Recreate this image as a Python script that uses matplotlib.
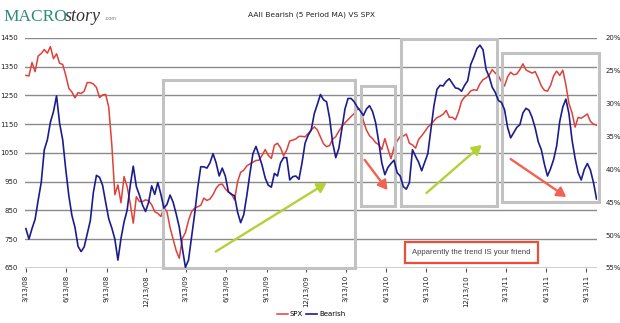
import matplotlib
matplotlib.use('Agg')
import matplotlib.pyplot as plt
import matplotlib.dates as mdates
from matplotlib.patches import Rectangle, FancyArrowPatch
from matplotlib.ticker import FuncFormatter
import pandas as pd

# Weekly readings, first survey week 3/13/08
start_date = '2008-03-13'

spx = [
    1320, 1318, 1365, 1333, 1387, 1396, 1410, 1397, 1420, 1378,
    1395, 1362, 1358, 1320, 1275, 1262, 1242, 1260, 1257, 1265,
    1295, 1295, 1290, 1278, 1243, 1252, 1254, 1210, 1080, 905,
    939, 877, 968, 933, 875, 806, 898, 881, 881, 887,
    884, 870, 846, 840, 829, 860, 845, 790, 750, 710,
    684, 753, 773, 815, 846, 858, 863, 868, 893, 885,
    890, 905, 927, 940, 942, 925, 914, 908, 887, 950,
    983, 990, 1005, 1012, 1018, 1024, 1025, 1042, 1062, 1042,
    1031, 1077, 1084, 1068, 1040, 1060, 1092, 1095, 1099, 1108,
    1108, 1106, 1118, 1130, 1141, 1130, 1106, 1082, 1072, 1076,
    1098, 1107, 1126, 1143, 1155, 1166, 1177, 1187, 1202, 1203,
    1162, 1130, 1110, 1100, 1086, 1079, 1062, 1100, 1064, 1030,
    1070, 1092, 1107, 1109, 1116, 1084, 1078, 1067, 1097, 1110,
    1124, 1140, 1150, 1162, 1173, 1178, 1185, 1198, 1174, 1174,
    1166, 1192, 1230, 1245, 1253, 1266, 1270, 1268, 1291, 1305,
    1311, 1321, 1340, 1328, 1319, 1298, 1283, 1315, 1331, 1322,
    1325, 1340, 1360, 1339, 1333, 1328, 1333, 1310, 1283, 1268,
    1265, 1285, 1318, 1335, 1320, 1338, 1287, 1222, 1190, 1140,
    1174, 1171, 1178, 1186, 1160, 1150, 1147,
]

# AAII bearish percentage, 5 period moving average
bearish = [
    49.0, 50.6, 49.0, 47.6, 44.7, 42.0, 37.0, 35.5, 32.8, 31.2,
    28.8, 33.0, 35.5, 40.0, 44.0, 47.0, 48.8, 51.7, 52.5, 51.8,
    49.8, 47.8, 43.5, 40.9, 41.2, 42.4, 45.0, 47.5, 48.9, 50.6,
    53.8, 50.5, 48.0, 46.2, 42.5, 39.5, 42.6, 43.9, 45.4, 46.4,
    45.0, 42.5, 43.8, 42.0, 43.8, 45.9, 45.3, 43.9, 45.0, 46.8,
    48.8, 52.0, 54.9, 53.8, 50.3, 46.8, 42.8, 39.6, 39.6, 39.8,
    39.0, 37.6, 39.0, 41.0, 39.8, 41.0, 43.4, 43.8, 44.0, 46.5,
    48.1, 46.9, 44.0, 40.7, 37.6, 36.5, 37.9, 39.4, 41.3, 42.4,
    42.7, 40.6, 41.0, 39.0, 38.2, 38.2, 41.6, 41.1, 41.0, 41.5,
    39.0, 36.0, 34.8, 34.0, 31.5, 30.1, 28.6, 29.4, 29.7, 32.2,
    36.0, 38.2, 36.8, 33.8, 30.8, 29.2, 29.2, 29.7, 30.5, 31.1,
    31.8, 30.8, 30.3, 31.2, 32.9, 35.8, 39.0, 40.8, 39.7, 39.1,
    38.6, 40.5, 41.0, 42.6, 43.0, 42.0, 37.0, 38.0, 38.9, 40.2,
    38.9, 37.6, 34.0, 30.3, 27.8, 27.2, 27.3, 26.6, 26.2, 26.9,
    27.6, 27.7, 28.1, 27.2, 26.5, 24.0, 22.9, 21.6, 21.1, 21.8,
    24.8, 25.9, 27.5, 28.3, 29.5, 29.8, 30.9, 33.6, 35.2, 34.4,
    33.6, 33.2, 31.4, 30.7, 31.0, 32.1, 33.7, 35.8, 37.0, 39.2,
    41.0, 39.9, 38.5, 36.4, 32.7, 30.5, 29.3, 31.5, 35.5, 38.3,
    40.5, 41.6, 40.0, 39.1, 40.1, 42.0, 44.5,
]

spx_ticks = list(range(650, 1451, 100))
pct_ticks = list(range(20, 56, 5))
date_ticks = pd.date_range('2008-03-13', '2011-09-13', freq=pd.DateOffset(months=3))

weeks = pd.date_range(start_date, periods=len(spx), freq='7D')

RED = '#E0403A'
BLUE = '#1C1C8E'
GREEN = '#B2D235'
ARROW_RED = '#F26250'
BOX_GRAY = '#C2C2C2'

fig = plt.figure(figsize=(6.2, 3.23), dpi=100)
ax = fig.add_axes([25 / 620, 1 - 268 / 323, 572 / 620, 230 / 323])
ax2 = ax.twinx()

ax.plot(weeks, spx, color=RED, lw=1.1, zorder=3)
ax2.plot(weeks, bearish, color=BLUE, lw=1.2, zorder=3)

ax.set_xlim(weeks[0] - pd.Timedelta(days=2), weeks[-1] + pd.Timedelta(days=1))
ax.set_ylim(650, 1450)
ax2.set_ylim(55, 20)

ax.set_yticks(spx_ticks)
ax2.set_yticks(pct_ticks)
ax2.yaxis.set_major_formatter(FuncFormatter(lambda v, p: f'{v:.0f}%'))

ax.set_xticks(date_ticks)
ax.xaxis.set_major_formatter(
    FuncFormatter(lambda v, p: (lambda d: f'{d.month}/{d.day}/{d:%y}')(mdates.num2date(v))))

for a in (ax, ax2):
    for s in ('top', 'left', 'right', 'bottom'):
        a.spines[s].set_visible(False)
    a.set_axisbelow(True)

ax.yaxis.grid(True, color='#8a8a8a', lw=1.0)
ax.tick_params(axis='y', length=0, pad=5, labelsize=5, labelcolor='#222222')
ax2.tick_params(axis='y', length=0, pad=6, labelsize=5, labelcolor='#222222')
ax.tick_params(axis='x', length=3, width=0.8, color='#555555', pad=2,
               labelsize=5, labelrotation=90, labelcolor='#222222')
ax.axhline(650, color='#666666', lw=1.0, zorder=2)

# highlight boxes
boxes = [
    ('2009-01-19', '2010-04-04', 650, 1304),
    ('2010-04-17', '2010-07-04', 866, 1283),
    ('2010-07-16', '2011-02-21', 867, 1448),
    ('2011-03-05', '2011-10-12', 880, 1398),
]
for x0, x1, y0, y1 in boxes:
    d0 = mdates.date2num(pd.Timestamp(x0))
    d1 = mdates.date2num(pd.Timestamp(x1))
    ax.add_patch(Rectangle((d0, y0), d1 - d0, y1 - y0, fill=False,
                           ec=BOX_GRAY, lw=2.2, zorder=5, clip_on=False))

# trend arrows
arrows = [
    ('2009-05-20', 707, '2010-01-28', 946, GREEN),
    ('2010-09-13', 911, '2011-01-17', 1078, GREEN),
    ('2010-04-25', 1026, '2010-06-16', 921, ARROW_RED),
    ('2011-03-24', 1029, '2011-07-29', 897, ARROW_RED),
]
for xa, ya, xb, yb, c in arrows:
    pa = (mdates.date2num(pd.Timestamp(xa)), ya)
    pb = (mdates.date2num(pd.Timestamp(xb)), yb)
    ax.add_patch(FancyArrowPatch(pa, pb, arrowstyle='-|>,head_length=5.5,head_width=3.2',
                                 color=c, lw=1.7, zorder=6, shrinkA=0, shrinkB=0))

ax.text(mdates.date2num(pd.Timestamp('2010-12-25')), 704,
        'Apparently the trend IS your friend', ha='center', va='center',
        fontsize=5.6, family='Liberation Sans', color='#444444', zorder=7,
        bbox=dict(boxstyle='square,pad=0.9', fc='white', ec='#E8503A', lw=1.6))

# header
fig.text(311 / 620, 1 - 15 / 323, 'AAII Bearish (5 Period MA) VS SPX',
         ha='center', va='center', fontsize=5.4, color='#222222')
fig.text(3 / 620, 1 - 21 / 323, 'MACRO', family='Liberation Serif', fontsize=12.5,
         color='#2B8C7E', va='baseline', ha='left')
fig.text(65 / 620, 1 - 21 / 323, 'story', family='Liberation Serif', style='italic',
         fontsize=13, color='#333333', va='baseline', ha='left')
fig.text(104 / 620, 1 - 20 / 323, '.com', family='Liberation Sans', fontsize=4,
         color='#777777', va='baseline', ha='left')

# legend
h1, = ax.plot([], [], color=RED, lw=1.1, label='SPX')
h2, = ax.plot([], [], color=BLUE, lw=1.2, label='Bearish')
fig.legend(handles=[h1, h2], loc='center', bbox_to_anchor=(311 / 620, 1 - 314 / 323),
           ncol=2, frameon=False, fontsize=5, handlelength=1.6, handletextpad=0.3,
           columnspacing=0.4)

fig.savefig('out.png', dpi=100, facecolor='white')
